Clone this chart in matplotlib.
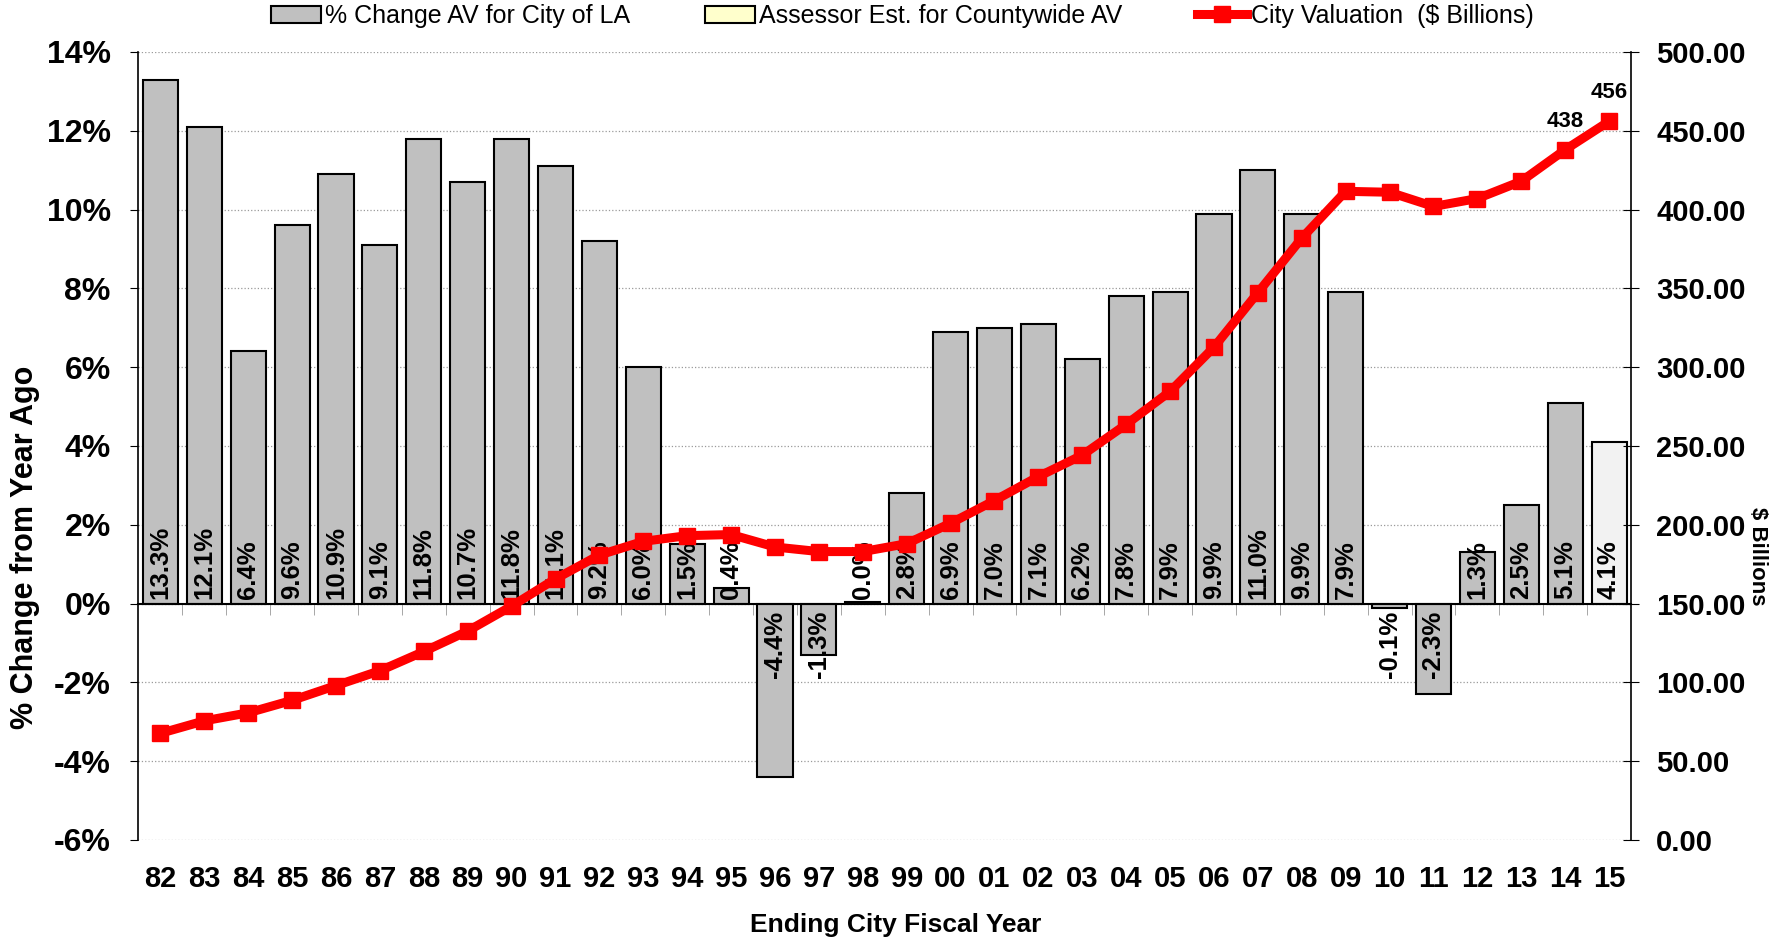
import numpy as np
import matplotlib
matplotlib.use('Agg')
import matplotlib.pyplot as plt
from matplotlib.patches import Patch
from matplotlib.lines import Line2D

# chart data
years = ['82', '83', '84', '85', '86', '87', '88', '89', '90', '91', '92', '93',
         '94', '95', '96', '97', '98', '99', '00', '01', '02', '03', '04', '05',
         '06', '07', '08', '09', '10', '11', '12', '13', '14', '15']
pct_change = [13.3, 12.1, 6.4, 9.6, 10.9, 9.1, 11.8, 10.7, 11.8, 11.1, 9.2, 6.0,
              1.5, 0.4, -4.4, -1.3, 0.03, 2.8, 6.9, 7.0, 7.1, 6.2, 7.8, 7.9,
              9.9, 11.0, 9.9, 7.9, -0.1, -2.3, 1.3, 2.5, 5.1, 4.1]
valuation = [67.7, 75.6, 80.7, 88.6, 98.0, 107.4, 119.6, 132.6, 148.4, 165.7,
             180.8, 189.5, 193.1, 193.8, 185.9, 183.0, 183.0, 188.0, 201.0, 215.4,
             230.6, 244.2, 263.7, 284.6, 312.7, 347.3, 381.9, 411.6, 411.0, 402.0,
             407.0, 418.0, 438.0, 456.0]
estimate_years = ['15']
labelled_years = ['14', '15']
legend_labels = ['% Change AV for City of LA', 'Assessor Est. for Countywide AV',
                 'City Valuation  (\\$ Billions)']

plt.rcParams['font.family'] = ['Liberation Sans', 'DejaVu Sans']
plt.rcParams['font.weight'] = 'bold'
plt.rcParams['axes.labelweight'] = 'bold'

fig = plt.figure(figsize=(17.8, 9.42), dpi=100)
ax1 = fig.add_axes([0.0778, 0.1083, 0.8385, 0.8365])

x = np.arange(len(years))
colors = ['#f2f2f2' if y in estimate_years else '#c0c0c0' for y in years]
ax1.bar(x, pct_change, width=0.8, color=colors, edgecolor='black', linewidth=1.5, zorder=2)

# value labels inside base of each bar
for i, v in enumerate(pct_change):
    if v >= 0:
        ax1.annotate(f'{v:.1f}%', (i, 0), xytext=(0, 3), textcoords='offset points',
                     rotation=90, ha='center', va='bottom', fontsize=18.5, zorder=3)
    else:
        ax1.annotate(f'{v:.1f}%', (i, 0), xytext=(0, -5), textcoords='offset points',
                     rotation=90, ha='center', va='top', fontsize=18.5, zorder=3)

ax1.set_xlim(-0.5, len(years) - 0.5)
ax1.set_ylim(-6, 14)
ax1.set_yticks(np.arange(-6, 15, 2))
ax1.yaxis.set_major_formatter(lambda v, p: f'{v:.0f}%')
ax1.grid(axis='y', color='#9a9a9a', linestyle=':', linewidth=0.9)
ax1.set_axisbelow(True)

ax1.spines['top'].set_visible(False)
ax1.spines['right'].set_visible(False)
ax1.spines['bottom'].set_position(('data', 0))
ax1.spines['bottom'].set_linewidth(1.5)
ax1.spines['left'].set_linewidth(1.2)

ax1.set_xticks(x, years)
ax1.set_xticks(x[:-1] + 0.5, minor=True)
ax1.tick_params(axis='x', which='major', length=0, pad=188, labelsize=21)
ax1.tick_params(axis='x', which='minor', length=8, color='#999999', direction='out')
ax1.tick_params(axis='y', direction='out', length=6, pad=14, labelsize=23)

ax1.set_ylabel('% Change from Year Ago', fontsize=22, va='center')
ax1.yaxis.set_label_coords(-0.076, 0.372)
ax1.set_xlabel('Ending City Fiscal Year', fontsize=19, va='center')
ax1.xaxis.set_label_coords(0.5075, -0.108)

# city valuation on the right axis
ax2 = ax1.twinx()
ax2.plot(x, valuation, color='red', linewidth=6.5, marker='s', markersize=12, zorder=3)
ax2.set_ylim(0, 500)
ax2.set_yticks(np.arange(0, 501, 50))
ax2.yaxis.set_major_formatter(lambda v, p: f'{v:.2f}')
ax2.tick_params(axis='y', direction='inout', length=12, pad=12, labelsize=21)
for s in ['top', 'left', 'bottom']:
    ax2.spines[s].set_visible(False)
ax2.spines['right'].set_linewidth(1.2)
ax2.set_ylabel('\\$ Billions', rotation=270, fontsize=16, va='center')
ax2.yaxis.set_label_coords(1.0845, 0.36)

for yr in labelled_years:
    i = years.index(yr)
    ax2.annotate(f'{valuation[i]:.0f}', (i, valuation[i]), xytext=(0, 13),
                 textcoords='offset points', ha='center', va='bottom', fontsize=16)

handles = [Patch(facecolor='#c0c0c0', edgecolor='black', linewidth=1.5),
           Patch(facecolor='#ffffcc', edgecolor='black', linewidth=1.5),
           Line2D([], [], color='red', linewidth=6.5, marker='s', markersize=12)]
fig.legend(handles, legend_labels, loc='center', bbox_to_anchor=(0.507, 0.983), ncol=3,
           frameon=False, prop={'size': 18, 'weight': 'normal'}, handlelength=2.0,
           handletextpad=0.15, columnspacing=3.0)

fig.savefig('out.png', dpi=100)
